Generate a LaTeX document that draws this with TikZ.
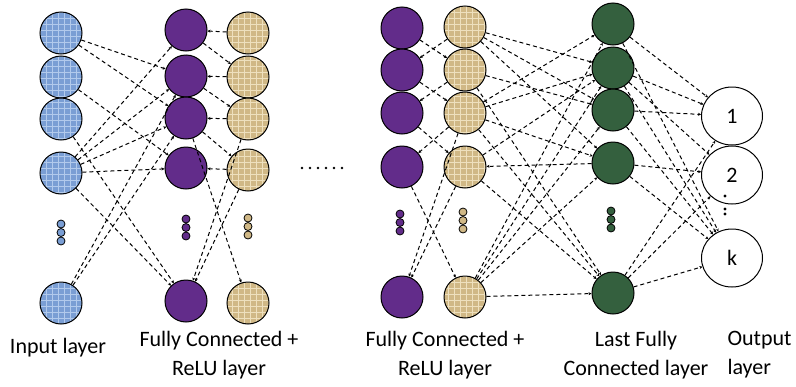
\documentclass[tikz,border=0pt]{standalone}
\usepackage{fontspec}
\setmainfont{Carlito}
\usetikzlibrary{arrows.meta,shapes.geometric,patterns}
\definecolor{denim}{RGB}{122,158,212}
\definecolor{denimlight}{RGB}{178,202,236}
\definecolor{burlap}{RGB}{208,184,134}
\definecolor{burlaplight}{RGB}{238,224,190}
\definecolor{grape}{RGB}{98,44,138}
\definecolor{moss}{RGB}{52,96,62}
\pgfdeclarepatternformonly{weave}{\pgfqpoint{-1pt}{-1pt}}{\pgfqpoint{7pt}{7pt}}{\pgfqpoint{6pt}{6pt}}{
  \pgfsetlinewidth{1.1pt}
  \pgfpathmoveto{\pgfqpoint{0pt}{1.5pt}}\pgfpathlineto{\pgfqpoint{6pt}{1.5pt}}
  \pgfpathmoveto{\pgfqpoint{4.5pt}{0pt}}\pgfpathlineto{\pgfqpoint{4.5pt}{6pt}}
  \pgfusepath{stroke}}

\begin{document}
\begin{tikzpicture}[x=1pt,y=-1pt,
                    every node/.style = {font=\fontsize{22}{29}\selectfont},
                    neuron/.style = {shape=circle, draw, line width=1pt,
                      inner sep=0pt, minimum size=42pt},
                    inputn/.style = {neuron, preaction={fill=denim},
                      pattern=weave, pattern color=denimlight},
                    fcn/.style = {neuron, fill=grape},
                    relun/.style = {neuron, preaction={fill=burlap},
                      pattern=weave, pattern color=burlaplight},
                    lastn/.style = {neuron, fill=moss},
                    outn/.style = {shape=ellipse, draw, line width=1pt,
                      inner sep=0pt, minimum width=61pt, minimum height=58pt},
                    link/.style = {dash pattern=on 4pt off 3pt, line width=1pt,
                      -{Stealth[length=3pt,width=3pt]}}]
  \useasboundingbox (0,0) rectangle (796,386);
  % layers
  \foreach \i/\y in {1/33,2/77,3/119,4/173,5/303}
    \node[inputn] (in\i) at (61,\y) {};
  \foreach \i/\y in {1/30,2/76,3/118,4/168,5/301}
    \node[fcn] (fa\i) at (186,\y) {};
  \foreach \i/\y in {1/33,2/77,3/119,4/170,5/303}
    \node[relun] (fb\i) at (248,\y) {};
  \foreach \i/\y in {1/28,2/70,3/113,4/167,5/297}
    \node[fcn] (ga\i) at (402,\y) {};
  \foreach \i/\y in {1/27,2/70,3/113,4/167,5/297}
    \node[relun] (gb\i) at (465,\y) {};
  \foreach \i/\y in {1/24,2/68,3/110,4/163,5/293}
    \node[lastn] (last\i) at (613,\y) {};
  \node[outn] (out1) at (732,116) {1};
  \node[outn] (out2) at (732,175) {2};
  \node[outn] (outk) at (732,258) {k};
  % vertical dots
  \foreach \x/\y/\c in {61/224/denim, 186/219/grape, 248/218/burlap,
                        400/214/grape, 463/212/burlap, 611/211/moss}
    \foreach \k in {0,1,2}
      \filldraw[fill=\c, line width=0.8pt] (\x,\y+8.5*\k) circle (4pt);
  \foreach \x in {302,310,...,342}
    \fill (\x,168) circle (1.3pt);
  \foreach \y in {196,209,214}
    \fill (725,\y) circle (1.6pt);
  % connections
  \foreach \a/\b in {in1/fa2, in1/fa3, in2/fa4, in3/fa5, in4/fa1, in4/fa2,
                     in4/fa3, in4/fa4, in4/fa5, in5/fa2, in5/fa3,
                     fb1/fa1, fa1/fb2, fb2/fa2, fa2/fb3, fb3/fa3, fa3/fb4,
                     fb4/fa4, fa3/fb5, fb3/fa5, fb4/fa5,
                     gb1/ga2, ga1/gb2, gb2/ga3, ga2/gb3, gb3/ga4, ga3/gb4,
                     ga4/gb5, gb3/ga5, gb4/ga5,
                     gb1/last2, gb1/last3, gb1/last4, gb2/last3, gb2/last5,
                     gb3/last1, gb3/last2, gb3/last4, gb3/last5,
                     last4/gb4, gb4/last2, gb4/last5,
                     gb5/last1, gb5/last2, gb5/last3, gb5/last4, gb5/last5,
                     last1/out1, last1/outk, last2/out1, last2/out2, last2/outk,
                     last3/out1, last3/outk, last4/out2, last4/outk,
                     last5/out1, last5/out2, last5/outk}
    \draw[link] (\a) -- (\b);
  % labels
  \node (lin) at (58,348) {Input layer};
  \node[align=center] (lfa) at (219,355) {Fully Connected +\\ReLU layer};
  \node[align=center] (lga) at (445,355) {Fully Connected +\\ReLU layer};
  \node[align=center] (llast) at (636,355) {Last Fully\\Connected layer};
  \node[align=left, anchor=west] (lout) at (724,355) {Output\\layer};
\end{tikzpicture}
\end{document}
